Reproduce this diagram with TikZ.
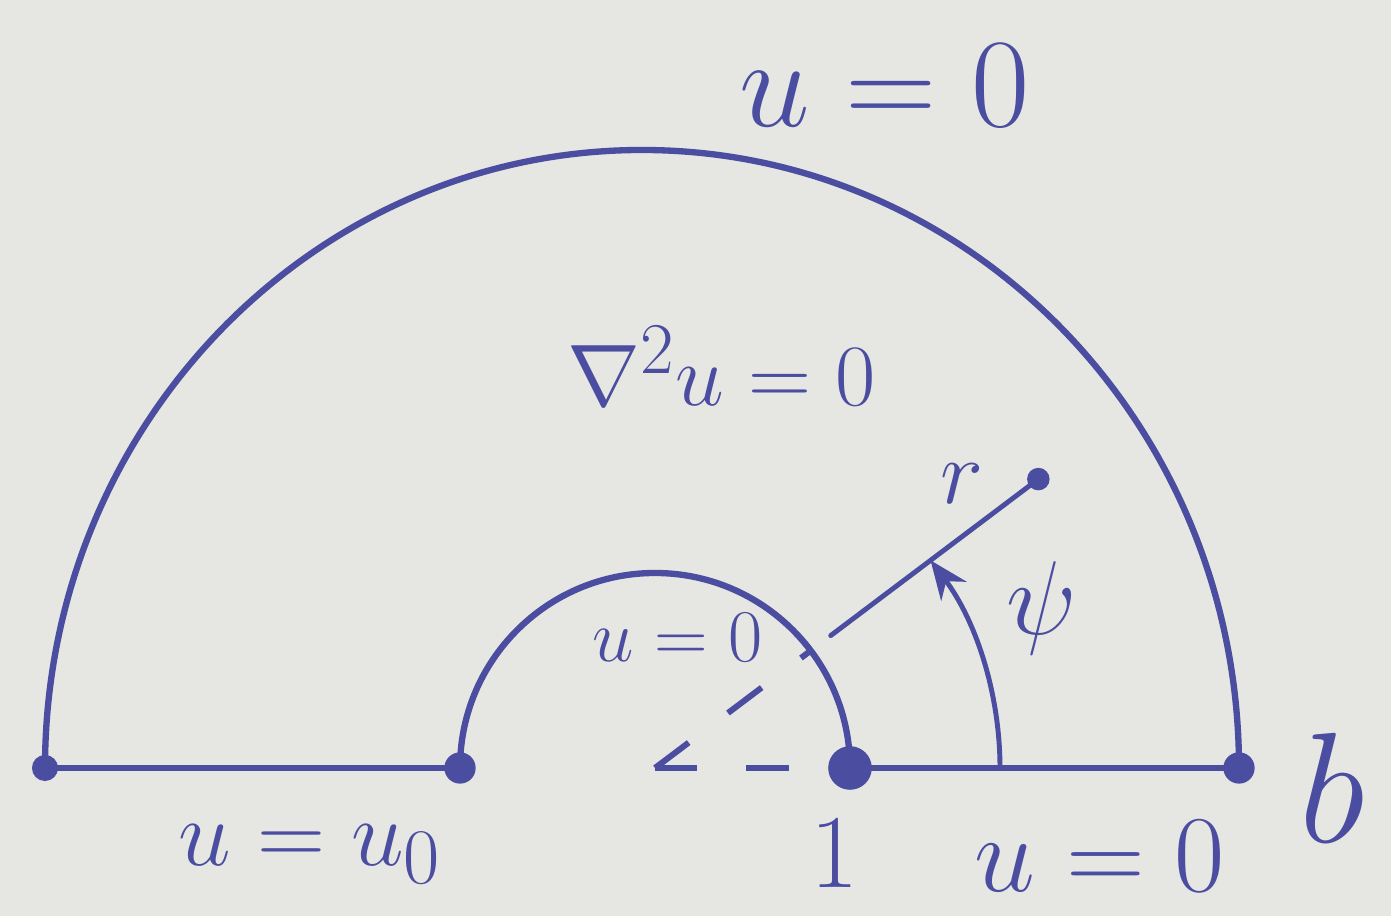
\documentclass[tikz,border=0pt]{standalone}
\usepackage{amsmath,amssymb}
\usepackage{xcolor}
\usepackage{tikz}
\usetikzlibrary{calc,arrows.meta}
\definecolor{paper}{HTML}{E6E7E2}
\definecolor{ink}{HTML}{4A4DA0}
\tikzset{
  boundary/.style={draw=ink, line width=1.8pt, line cap=round},
  dashedray/.style={draw=ink, line width=1.7pt, dash pattern=on 12pt off 14pt},
  thinray/.style={draw=ink, line width=1.4pt, line cap=round},
  lab/.style={text=ink, inner sep=0pt, font=\Huge, scale=#1},
  lab/.default=1.2,
  pt/.style={circle, fill=ink, draw=ink, inner sep=0pt, minimum size=#1},
  pt/.default=8pt,
}

\begin{document}
\begin{tikzpicture}
  \fill[paper] (0,0) rectangle (13.91,9.16);
  \useasboundingbox (0,0) rectangle (13.91,9.16);
  \coordinate (O) at (6.55,1.48);
  \coordinate (A) at (0.45,1.48);
  \coordinate (B) at (4.60,1.48);
  \coordinate (C) at (8.50,1.48);
  \coordinate (D) at (12.39,1.48);
  % outer half ring and the axis
  \draw[boundary] (A) arc[start angle=180, end angle=0, x radius=5.97, y radius=6.18];
  \draw[boundary] (B) arc[start angle=180, end angle=0, radius=1.95];
  \draw[boundary] (A)--(B);
  \draw[boundary] (C)--(D);
  % radius and angle
  \draw[dashedray] (O)--(C);
  \draw[dashedray] (O)--($(O)+(37:1.95)$);
  \coordinate (R0) at ($(O)+(37:2.2)$);
  \node[pt=6pt] (R) at ($(O)+(37:4.8)$) {};
  \draw[thinray] (R0)--(R);
  \draw[thinray, -{Stealth[length=11pt,width=9pt]}] ($(O)+(0:3.45)$) arc (0:37:3.45);
  \node[pt=7pt] (Pa) at (A) {};
  \node[pt=8.5pt] (Pb) at (B) {};
  \node[pt=12pt] (Pc) at (C) {};
  \node[pt=8.5pt] (Pd) at (D) {};
  % labels
  \node[lab=1.45] (top) at (8.85,8.30) {$u=0$};
  \node[lab=1.0] (lap) at (7.22,5.50) {$\nabla^2 u=0$};
  \node[lab=0.85] (inn) at (6.78,2.78) {$u=0$};
  \node[lab=1.05] (rr) at (9.62,4.32) {$r$};
  \node[lab=1.2] (psi) at (10.42,3.08) {$\psi$};
  \node[lab=1.08] (bl) at (3.10,0.62) {$u=u_0$};
  \node[lab=1.2] (one) at (8.35,0.62) {$1$};
  \node[lab=1.25] (br) at (11.00,0.60) {$u=0$};
  \node[lab=1.8] (bb) at (13.32,1.28) {$b$};
\end{tikzpicture}
\end{document}
